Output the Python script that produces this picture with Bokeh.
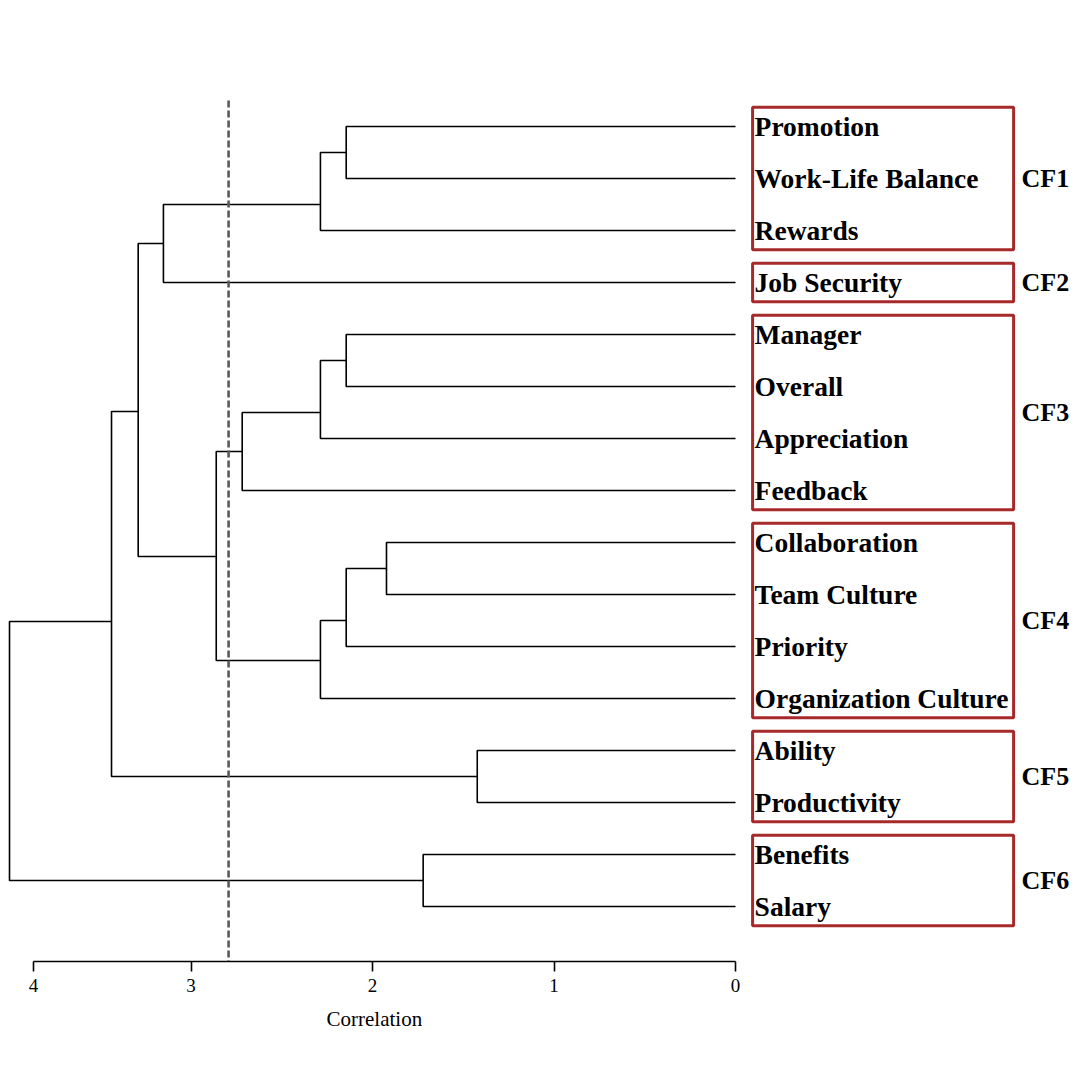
from bokeh.plotting import figure
from bokeh.models import Range1d, FixedTicker, CustomJSTickFormatter, Title
from bokeh.core.properties import value
from bokeh.embed import file_html
from bokeh.resources import INLINE

# ---------------- data ----------------
leaves = ["Promotion", "Work-Life Balance", "Rewards", "Job Security",
          "Manager", "Overall", "Appreciation", "Feedback",
          "Collaboration", "Team Culture", "Priority", "Organization Culture",
          "Ability", "Productivity", "Benefits", "Salary"]

# merges (node ids continue after the 16 leaves: 16, 17, ...)
merge_left = [0, 16, 17, 4, 19, 20, 8, 22, 23, 21, 18, 12, 26, 14, 28]
merge_right = [1, 2, 3, 5, 6, 7, 9, 10, 11, 24, 25, 13, 27, 15, 29]
merge_height = [2.145, 2.287, 3.152, 2.145, 2.287, 2.718, 1.923, 2.145,
                2.287, 2.861, 3.291, 1.423, 3.438, 1.721, 4.0]
# vertical position (leaf units) at which each merged node hangs
merge_pos = [0.5, 1.5, 2.25, 4.5, 5.5, 6.25, 8.5, 9.5,
             10.27, 8.27, 5.48, 12.5, 9.52, 14.5, 12.0]

cluster_names = ["CF1", "CF2", "CF3", "CF4", "CF5", "CF6"]
cluster_first = [0, 3, 4, 8, 12, 14]
cluster_last = [2, 3, 7, 11, 13, 15]

cut_height = 2.793
tick_values = [0, 1, 2, 3, 3.868]
x_label = "Correlation"

# ---------------- build ----------------
n = len(leaves)
pos = {i: float(i) for i in range(n)}
hgt = {i: 0.0 for i in range(n)}
for k in range(len(merge_left)):
    pos[n + k] = merge_pos[k]
    hgt[n + k] = merge_height[k]

xs, ys = [], []
for k in range(len(merge_left)):
    a, b, h = merge_left[k], merge_right[k], merge_height[k]
    xs.append([hgt[a], h, h, hgt[b]])
    ys.append([pos[a], pos[a], pos[b], pos[b]])

FONT = "Liberation Serif"

p = figure(width=1075, height=1075, output_backend="svg", toolbar_location=None,
           x_range=Range1d(4.0496, -1.873), y_range=Range1d(16.058, -2.423),
           min_border_left=0, min_border_right=0, min_border_top=0, min_border_bottom=114,
           y_axis_location=None)
p.outline_line_color = None
p.xgrid.visible = False
p.ygrid.visible = False
p.background_fill_color = "white"
p.border_fill_color = "white"

# dendrogram links
p.multi_line(xs=xs, ys=ys, line_color="black", line_width=1.6)

# cut line
p.segment(x0=[cut_height], y0=[-0.5], x1=[cut_height], y1=[16.3],
          line_color="#5a5a5a", line_width=2.6, line_dash="7 3")

# leaf labels
p.text(x=[-0.105] * n, y=list(range(n)), text=leaves,
       text_font=value(FONT), text_font_style="bold", text_font_size="27.5px",
       text_align="left", text_baseline="middle", text_color="black")

# cluster boxes
pad = 0.37
p.quad(left=[-0.094] * len(cluster_names), right=[-1.532] * len(cluster_names),
       top=[f - pad for f in cluster_first], bottom=[l + pad for l in cluster_last],
       fill_color=None, line_color="#A62A2A", line_width=3)

p.text(x=[-1.576] * len(cluster_names),
       y=[(f + l) / 2 for f, l in zip(cluster_first, cluster_last)],
       text=cluster_names, text_font=value(FONT), text_font_style="bold",
       text_font_size="26px", text_align="left", text_baseline="middle",
       text_color="black")

# axis
ax = p.xaxis[0]
ax.ticker = FixedTicker(ticks=tick_values)
ax.formatter = CustomJSTickFormatter(code="return tick > 3.5 ? '4' : tick.toFixed(0);")
ax.bounds = (0, tick_values[-1])
ax.minor_tick_line_color = None
ax.major_tick_in = 0
ax.major_tick_out = 10
ax.major_tick_line_width = 1.6
ax.axis_line_width = 1.6
ax.axis_line_color = "black"
ax.major_tick_line_color = "black"
ax.major_label_text_font = FONT
ax.major_label_text_font_size = "19px"
ax.major_label_text_color = "black"
ax.major_label_standoff = 7

p.add_layout(Title(text=x_label, align="left", offset=326, standoff=20,
                   text_font=FONT, text_font_size="21px",
                   text_font_style="normal", text_color="black"), "below")

open("out.html", "w").write(file_html(p, INLINE))
